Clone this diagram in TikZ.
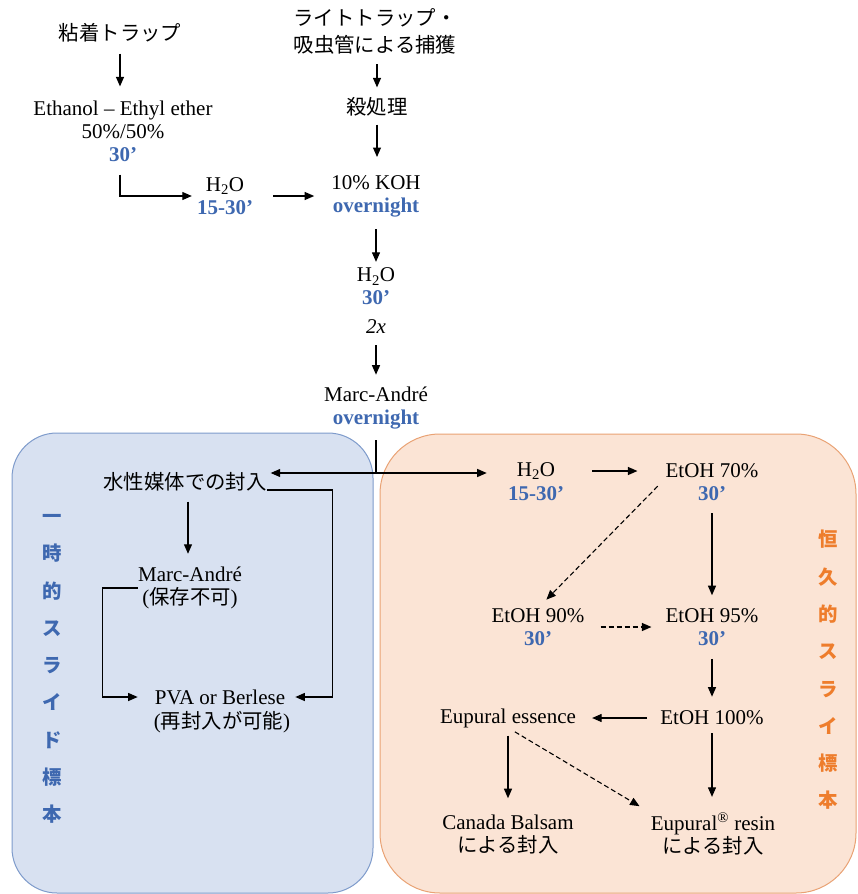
\documentclass[tikz,border=0pt]{standalone}
\usepackage{fontspec}
\setmainfont{Liberation Serif}
\newfontfamily\jp[Scale=0.97]{Noto Sans CJK JP}
\usetikzlibrary{arrows.meta}
\definecolor{bluetxt}{HTML}{3E68B0}
\definecolor{orgtxt}{HTML}{EE7D2C}
\definecolor{bluefill}{HTML}{D8E1F1}
\definecolor{blueline}{HTML}{7E9BCB}
\definecolor{orgfill}{HTML}{FBE4D5}
\definecolor{orgline}{HTML}{E9A274}
\newcommand{\tm}[1]{{\color{bluetxt}\bfseries #1}}
\tikzset{
  lbl/.style={inner sep=0pt, align=center, font=\fontsize{21}{23}\selectfont},
  vlab/.style={inner sep=0pt, align=center, font=\jp\bfseries\fontsize{20}{37.3}\selectfont},
  arr/.style={line width=1.1pt, -{Triangle[length=9.5pt,width=8pt]}},
  dsh/.style={arr, dash pattern=on 5pt off 3pt},
  plain/.style={line width=1.1pt}
}
\begin{document}
\begin{tikzpicture}[x=1pt,y=-1pt]
\useasboundingbox (0,0) rectangle (857,894);
% boxes
\draw[fill=bluefill, draw=blueline, line width=1pt, rounded corners=45pt] (12,433) rectangle (373,893);
\draw[fill=orgfill, draw=orgline, line width=1pt, rounded corners=60pt] (380,434) rectangle (856,893);
% top part
\node[lbl] (trapA) at (120,33) {\jp 粘着トラップ};
\node[lbl] (eth) at (123,131) {Ethanol – Ethyl ether\\50\%/50\%\\\tm{30’}};
\node[lbl, font=\fontsize{21}{27}\selectfont] (trapB) at (375,31) {\jp ライトトラップ・\\\jp 吸虫管による捕獲};
\node[lbl] (kill) at (377,107) {\jp 殺処理};
\node[lbl] (h2oA) at (225,196) {H\textsubscript{2}O\\\tm{15-30’}};
\node[lbl] (koh) at (376,196) {10\% KOH\\\tm{overnight}};
\node[lbl] (h2oB) at (376,301) {H\textsubscript{2}O\\\tm{30’}\\[6pt]\textit{2x}};
\node[lbl] (ma) at (376,408) {Marc-André\\\tm{overnight}};
\coordinate (jn) at (376,473);
% left box
\node[lbl] (wat) at (185,482) {\jp 水性媒体での封入};
\node[lbl] (ma2) at (190,588) {Marc-André\\({\jp 保存不可})};
\node[lbl] (pva) at (220,697) {PVA or Berlese};
\node[lbl] (pvas) at (222,722) {({\jp 再封入が可能})};
\node[vlab, text=bluetxt] (vl) at (52,669) {一\\時\\的\\ス\\ラ\\イ\\ド\\標\\本};
% right box
\node[lbl] (h2oC) at (536,471) {H\textsubscript{2}O};
\node[lbl] (h2oCs) at (536,494) {\tm{15-30’}};
\node[lbl] (e70) at (712,471) {EtOH 70\%};
\node[lbl] (e70s) at (712,494) {\tm{30’}};
\node[lbl] (e90) at (538,627) {EtOH 90\%\\\tm{30’}};
\node[lbl] (e95) at (712,627) {EtOH 95\%\\\tm{30’}};
\node[lbl] (e100) at (712,718) {EtOH 100\%};
\node[lbl] (ess) at (508,718) {Eupural essence};
\node[lbl] (cb) at (508,834) {Canada Balsam\\\jp による封入};
\node[lbl] (er) at (713,834) {Eupural\textsuperscript{®} resin\\\jp による封入};
\node[vlab, text=orgtxt] (vr) at (828,670) {恒\\久\\的\\ス\\ラ\\イ\\標\\本};
% connectors top
\draw[arr, shorten <=11pt, shorten >=14pt] (trapA.south) -- (trapA.south |- eth.north);
\draw[arr, shorten <=10pt, shorten >=10pt] (kill.north |- trapB.south) -- (kill.north);
\draw[arr, shorten <=8pt, shorten >=18pt] (kill.south) -- (kill.south |- koh.north);
\draw[arr, shorten <=13pt, shorten >=5pt] ([xshift=-3pt]eth.south) |- (h2oA.west);
\draw[arr, shorten <=20pt, shorten >=17pt] (h2oA.east) -- (koh.west);
\draw[arr, shorten <=12pt, shorten >=6pt] (koh.south) -- (h2oB.north);
\draw[arr, shorten <=11pt, shorten >=12pt] (h2oB.south) -- (ma.north);
\draw[plain, shorten <=11pt] (ma.south) -- (jn);
\draw[arr, shorten >=4pt] (jn) -- (jn -| wat.east);
\draw[arr, shorten >=30pt] (jn) -- (jn -| h2oC.west);
% left connectors
\draw[arr, shorten <=10pt, shorten >=13pt] ([xshift=3pt]wat.south) -- ([xshift=3pt]wat.south |- ma2.north);
\draw[arr, shorten >=10pt] ([yshift=-8pt]wat.east) -- ++(66,0) |- (pva.east);
\draw[arr, shorten >=17pt] (ma2.west) -- ++(-35,0) |- (pva.west);
% right connectors
\draw[arr, shorten <=37pt, shorten >=28pt] (h2oC.east) -- (e70.west);
\draw[arr, shorten <=12pt, shorten >=13pt] (e70s.south) -- (e95.north);
\draw[dsh, shorten <=11pt, shorten >=12pt] (e70.south west) -- (e90.north);
\draw[dsh, shorten <=16pt, shorten >=14pt] (e90.east) -- (e95.west);
\draw[arr, shorten <=13pt, shorten >=14pt] (e95.south) -- (e100.north);
\draw[arr, shorten <=13pt, shorten >=16pt] (e100.west) -- (ess.east);
\draw[arr, shorten <=8pt, shorten >=16pt] (ess.south) -- (cb.north);
\draw[dsh, shorten <=8pt, shorten >=13pt] (ess.south) -- (er.north west);
\draw[arr, shorten <=8pt, shorten >=16pt] (e100.south) -- (e100.south |- er.north);
\end{tikzpicture}
\end{document}
